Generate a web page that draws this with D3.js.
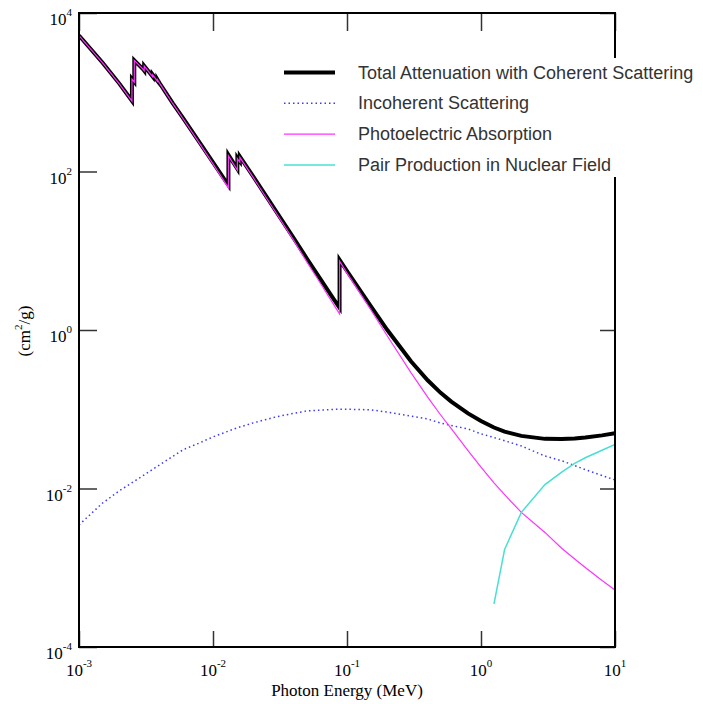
<!DOCTYPE html>
<html>
<head>
<meta charset="utf-8">
<script src="https://cdn.jsdelivr.net/npm/d3@7"></script>
<style>
  body { margin: 0; background: #fff; }
  svg { display: block; }
</style>
</head>
<body>
<div id="chart"></div>
<script>
// photon energies (MeV), edges are repeated energies
var energy = [1e-3, 1.5e-3, 2e-3, 2.484e-3, 2.484e-3, 2.53e-3, 2.586e-3, 2.586e-3, 3e-3, 3.066e-3, 3.066e-3,
    3.31e-3, 3.554e-3, 3.554e-3, 3.698e-3, 3.851e-3, 3.851e-3, 4e-3, 5e-3, 6e-3, 8e-3, 1e-2,
    1.3035e-2, 1.3035e-2, 1.5e-2, 1.52e-2, 1.52e-2, 1.55e-2, 1.5861e-2, 1.5861e-2, 2e-2, 3e-2, 4e-2,
    5e-2, 6e-2, 8e-2, 8.8005e-2, 8.8005e-2, 0.1, 0.15, 0.2, 0.3, 0.4, 0.5, 0.6, 0.8, 1, 1.25, 1.5,
    2, 3, 4, 5, 6, 8, 10];

// total attenuation with coherent scattering (cm2/g)
var totalAtten = [5210, 2356, 1285, 780, 1473, 1418, 1355, 2534, 1965, 1875, 2149,
    1831, 1568, 1663, 1519, 1389, 1445, 1300, 730, 467, 228.7, 130.6,
    67.0, 162.1, 111.6, 107.8, 148.5, 141.6, 134.4, 154.8, 86.4, 30.3, 14.4,
    8.04, 5.02, 2.42, 1.91, 7.68, 5.55, 2.01, 0.999, 0.403, 0.232, 0.161, 0.125, 0.0887, 0.0710, 0.0588, 0.0522,
    0.0461, 0.0423, 0.0420, 0.0427, 0.0439, 0.0468, 0.0497];

// photoelectric absorption (cm2/g), same energies
var photoAbs = [5197, 2344, 1274, 771, 1464, 1409, 1346, 2525, 1955, 1866, 2140,
    1822, 1558, 1654, 1510, 1380, 1436, 1292, 722, 460, 222, 124.7,
    62.1, 157.2, 107.7, 104, 144.8, 138, 131, 151, 83.5, 28.9, 13.5,
    7.3, 4.5, 2.06, 1.6, 7.38, 5.23, 1.82, 0.84, 0.29, 0.142, 0.0846, 0.057, 0.0301, 0.0186, 0.0118, 0.00835,
    0.005, 0.00279, 0.00176, 0.00129, 0.00101, 0.00069, 0.000524];

// incoherent scattering
var incohEnergy = [1e-3, 1.5e-3, 2e-3, 3e-3, 4e-3, 5e-3, 6e-3, 8e-3, 1e-2, 1.5e-2, 2e-2, 3e-2, 4e-2, 5e-2,
    6e-2, 8e-2, 0.1, 0.15, 0.2, 0.3, 0.4, 0.5, 0.6, 0.8, 1, 1.25, 1.5, 2, 3, 4, 5, 6, 8, 10];
var incohScatter = [0.00347, 0.00656, 0.00935, 0.0145, 0.0199, 0.0254, 0.0309, 0.0378, 0.0448, 0.058, 0.0673,
    0.0807, 0.0887, 0.0951, 0.097, 0.0998, 0.1, 0.0985, 0.092, 0.0822, 0.0753, 0.067, 0.0625, 0.0563,
    0.049, 0.044, 0.0401, 0.0344, 0.0257, 0.0224, 0.0195, 0.0173, 0.0146, 0.0128];

// pair production in nuclear field
var pairEnergy = [1.25, 1.5, 2, 3, 4, 5, 6, 8, 10];
var pairNuc = [0.00035, 0.0017, 0.005, 0.0112, 0.0161, 0.0208, 0.0244, 0.0304, 0.036];

var xTicks = [1e-3, 1e-2, 1e-1, 1, 10];
var xTickExp = ["-3", "-2", "-1", "0", "1"];
var yTicks = [1e-4, 1e-2, 1, 1e2, 1e4];
var yTickExp = ["-4", "-2", "0", "2", "4"];

var legendNames = ["Total Attenuation with Coherent Scattering", "Incoherent Scattering",
    "Photoelectric Absorption", "Pair Production in Nuclear Field"];

var width = 703, height = 704;
var plotL = 79, plotR = 615, plotT = 13, plotB = 647;

var x = d3.scaleLog().domain([1e-3, 10]).range([plotL, plotR]);
var y = d3.scaleLog().domain([1e-4, 1e4]).range([plotB, plotT]);

var svg = d3.select("#chart").append("svg")
    .attr("width", width)
    .attr("height", height);

svg.append("clipPath").attr("id", "clip")
    .append("rect")
    .attr("x", plotL).attr("y", plotT)
    .attr("width", plotR - plotL).attr("height", plotB - plotT);

function pairs(xs, ys) {
    return xs.map(function (e, i) { return [e, ys[i]]; });
}

var line = d3.line()
    .x(function (d) { return x(d[0]); })
    .y(function (d) { return y(d[1]); });

var series = [
    { name: legendNames[0], data: pairs(energy, totalAtten), color: "#000", w: 4, dash: null },
    { name: legendNames[1], data: pairs(incohEnergy, incohScatter), color: "#3a3aff", w: 1.5, dash: "1.5,3" },
    { name: legendNames[2], data: pairs(energy, photoAbs), color: "#ff33ff", w: 1.2, dash: null },
    { name: legendNames[3], data: pairs(pairEnergy, pairNuc), color: "#48e0d2", w: 1.5, dash: null }
];

var plot = svg.append("g").attr("clip-path", "url(#clip)");
plot.selectAll("path")
    .data(series)
    .enter().append("path")
    .attr("d", function (d) { return line(d.data); })
    .attr("fill", "none")
    .attr("stroke", function (d) { return d.color; })
    .attr("stroke-width", function (d) { return d.w; })
    .attr("stroke-dasharray", function (d) { return d.dash; })
    .attr("stroke-linejoin", "miter");

// inward ticks on all four sides
var axes = svg.append("g");
axes.append("g").attr("transform", "translate(0," + plotB + ")")
    .call(d3.axisTop(x).tickValues(xTicks).tickSize(16).tickFormat(""));
axes.append("g").attr("transform", "translate(0," + plotT + ")")
    .call(d3.axisBottom(x).tickValues(xTicks).tickSize(18).tickFormat(""));
axes.append("g").attr("transform", "translate(" + plotL + ",0)")
    .call(d3.axisRight(y).tickValues(yTicks).tickSize(18).tickFormat(""));
axes.append("g").attr("transform", "translate(" + plotR + ",0)")
    .call(d3.axisLeft(y).tickValues(yTicks).tickSize(15).tickFormat(""));
axes.selectAll(".domain").remove();
axes.selectAll(".tick line").attr("stroke", "#333").attr("stroke-width", 1.5);

// frame
svg.append("rect")
    .attr("x", plotL).attr("y", plotT)
    .attr("width", plotR - plotL).attr("height", plotB - plotT)
    .attr("fill", "none").attr("stroke", "#000").attr("stroke-width", 2);

// tick labels: 10 with superscript exponent
var serif = "'Liberation Serif', 'Times New Roman', serif";
svg.selectAll(".xlab")
    .data(xTicks)
    .enter().append("text")
    .attr("class", "xlab")
    .attr("x", function (d) { return x(d); })
    .attr("y", plotB + 29)
    .attr("text-anchor", "middle")
    .attr("font-family", serif)
    .attr("font-size", 17)
    .each(function (d, i) {
        var t = d3.select(this);
        t.append("tspan").text("10");
        t.append("tspan").attr("dy", -9).attr("font-size", 11).text(xTickExp[i]);
    });

svg.selectAll(".ylab")
    .data(yTicks)
    .enter().append("text")
    .attr("class", "ylab")
    .attr("x", 72)
    .attr("y", function (d) { return y(d) + 12; })
    .attr("text-anchor", "end")
    .attr("font-family", serif)
    .attr("font-size", 17)
    .each(function (d, i) {
        var t = d3.select(this);
        t.append("tspan").text("10");
        t.append("tspan").attr("dy", -9).attr("font-size", 11).text(yTickExp[i]);
    });

svg.append("text")
    .attr("x", (plotL + plotR) / 2)
    .attr("y", 696)
    .attr("text-anchor", "middle")
    .attr("font-family", serif)
    .attr("font-size", 17)
    .text("Photon Energy (MeV)");

var yt = svg.append("text")
    .attr("transform", "translate(30,331) rotate(-90)")
    .attr("text-anchor", "middle")
    .attr("font-family", serif)
    .attr("font-size", 17);
yt.append("tspan").text("(cm");
yt.append("tspan").attr("dy", -8).attr("font-size", 11).text("2");
yt.append("tspan").attr("dy", 8).text("/g)");

// legend on a white box, it covers the right frame
var legend = svg.append("g");
legend.append("rect")
    .attr("x", 275).attr("y", 58)
    .attr("width", width - 275).attr("height", 119)
    .attr("fill", "#fff");

var rowY = d3.scaleLinear().domain([0, 3]).range([72.5, 165]);
var row = legend.selectAll(".row")
    .data(series)
    .enter().append("g")
    .attr("transform", function (d, i) { return "translate(0," + rowY(i) + ")"; });
row.append("line")
    .attr("x1", 284).attr("x2", 335)
    .attr("stroke", function (d) { return d.color; })
    .attr("stroke-width", function (d) { return d.w; })
    .attr("stroke-dasharray", function (d) { return d.dash; });
row.append("text")
    .attr("x", 358)
    .attr("y", 6)
    .attr("font-family", "'Liberation Sans', Arial, sans-serif")
    .attr("font-size", 18)
    .attr("fill", "#333")
    .text(function (d) { return d.name; });
</script>
</body>
</html>
